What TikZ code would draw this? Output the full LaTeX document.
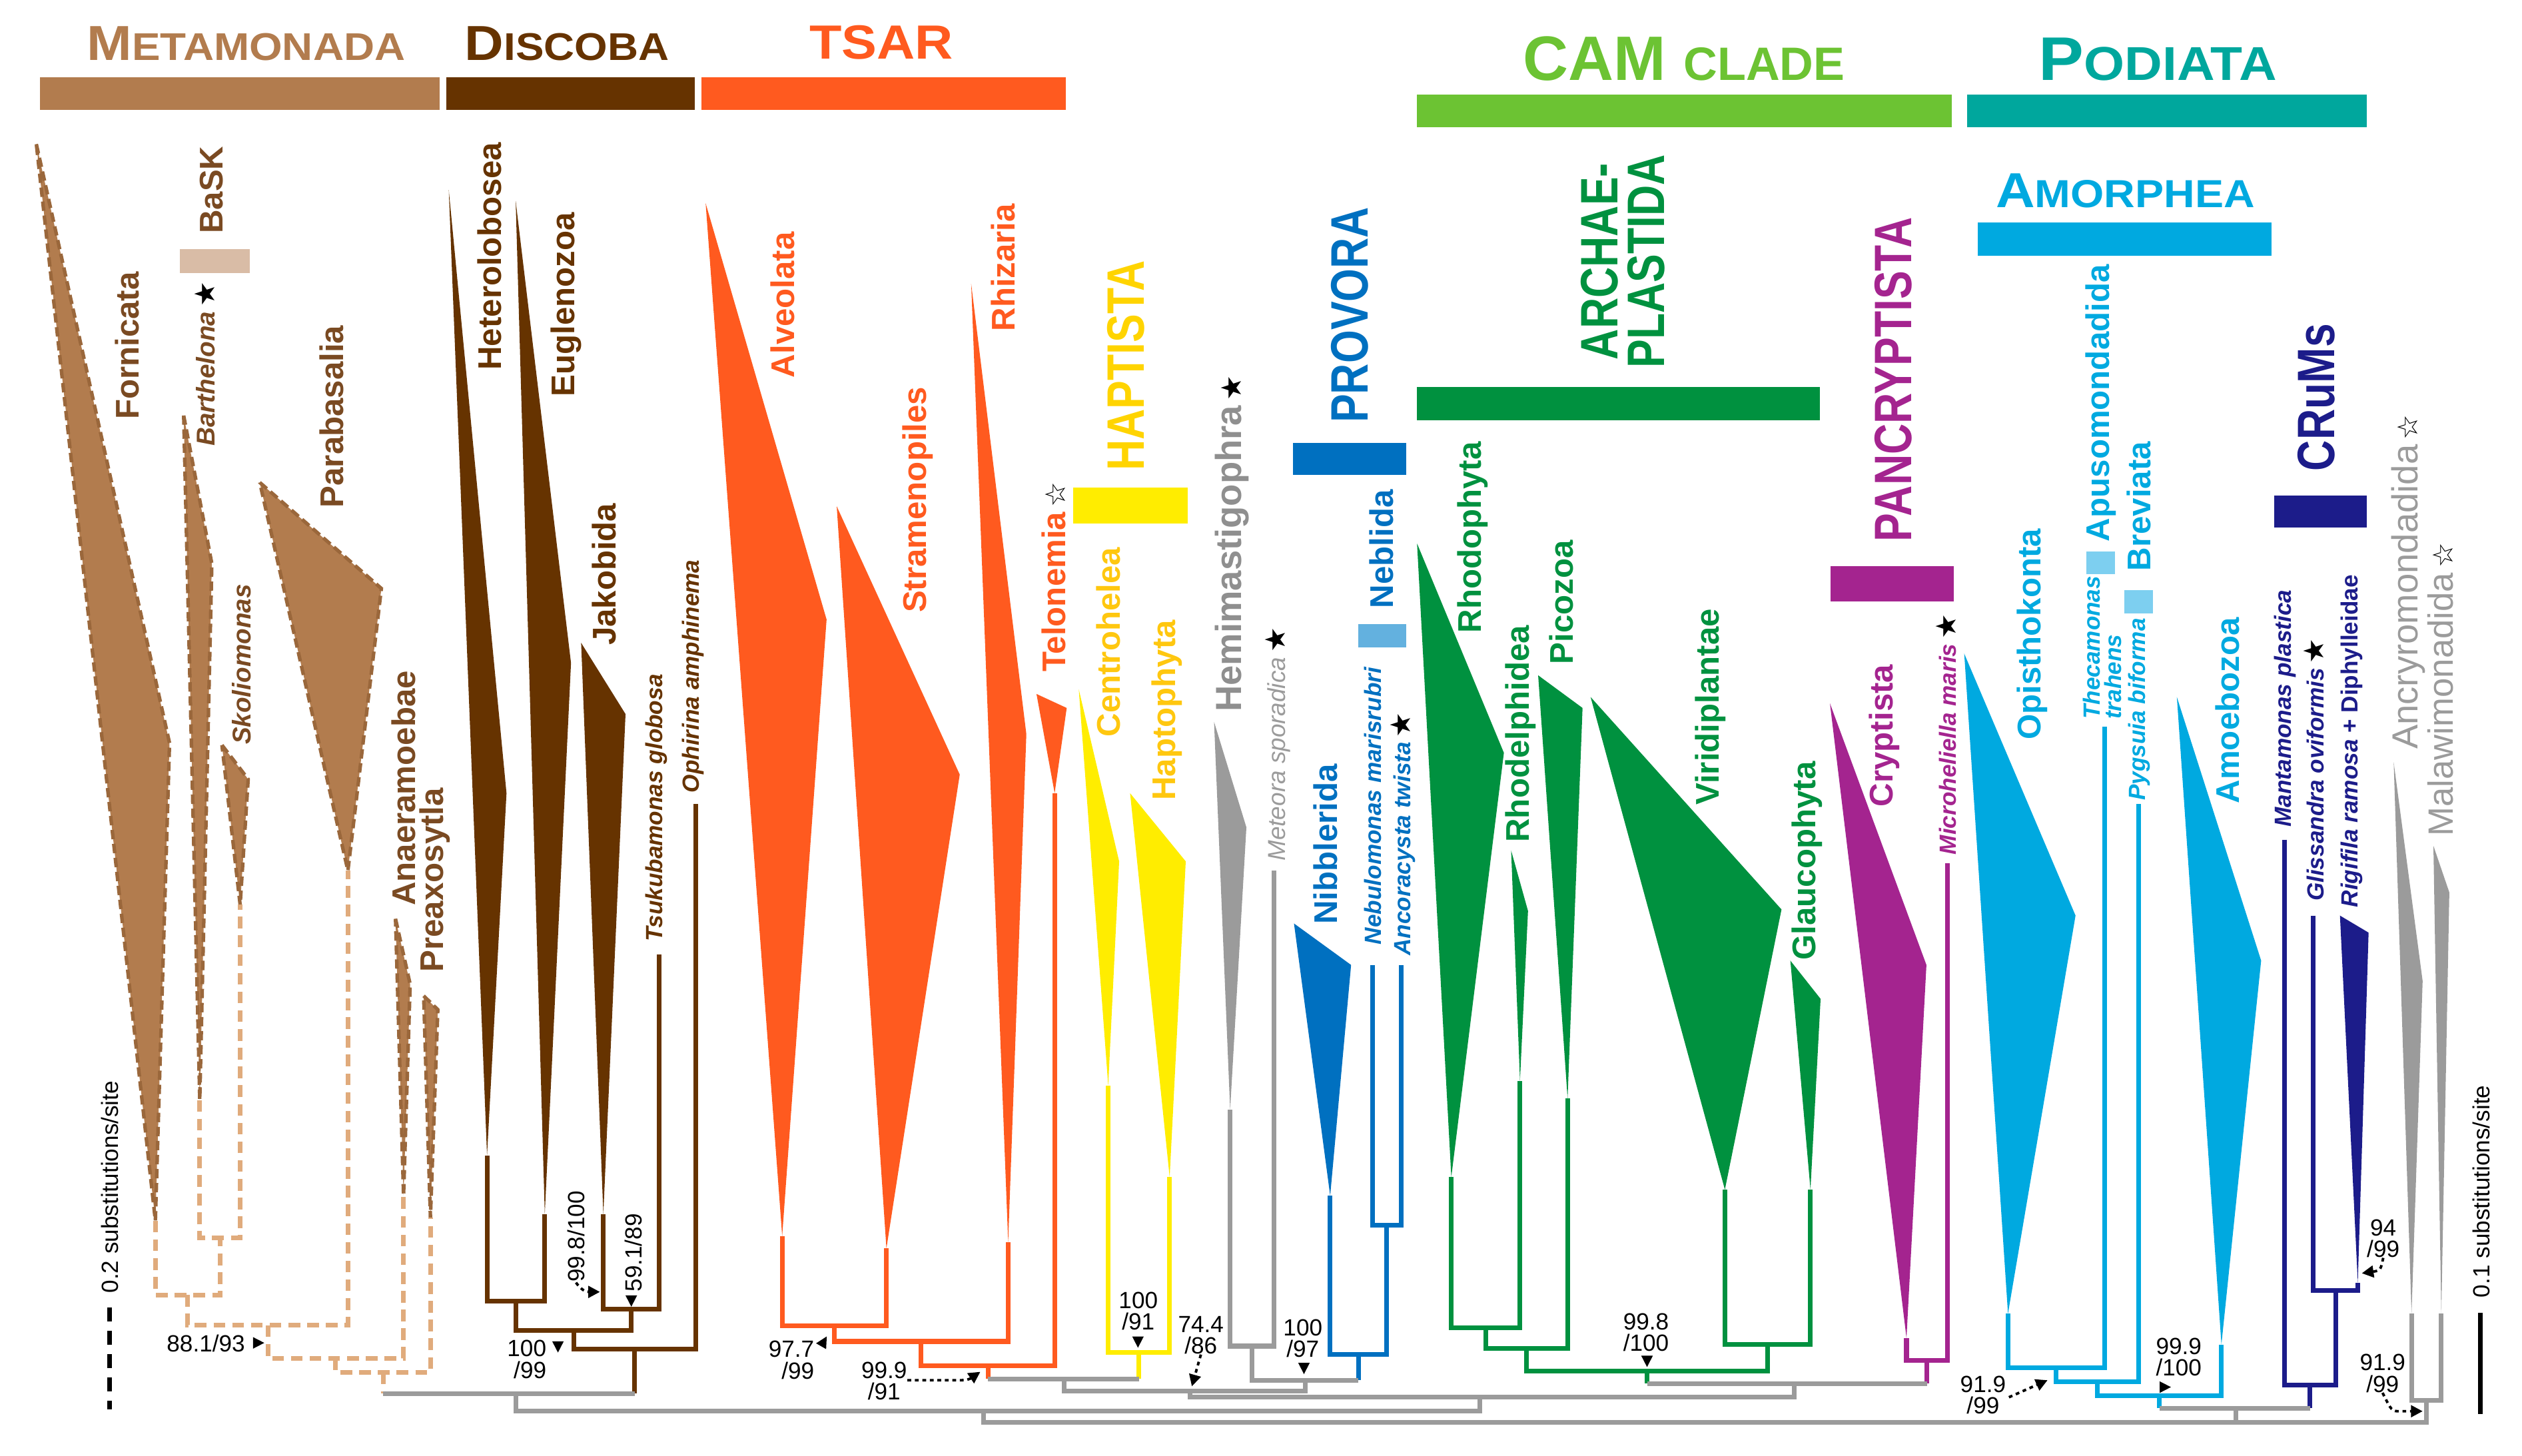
\documentclass[tikz,border=0pt]{standalone}
\usepackage{fontspec}
\setmainfont{Liberation Sans}
\newfontfamily\symfont{DejaVu Sans}
\newfontfamily\headfont[FakeStretch=1.1]{Liberation Sans}
\newfontfamily\grpfont[FakeStretch=0.81]{Liberation Sans}
\usetikzlibrary{arrows.meta}
\definecolor{metacol}{HTML}{B27C4E}
\definecolor{metaedge}{HTML}{9A673B}
\definecolor{metatree}{HTML}{E0AB7C}
\definecolor{metatext}{HTML}{7A4A22}
\definecolor{baskcol}{HTML}{D9BCA6}
\definecolor{disccol}{HTML}{663300}
\definecolor{tsarcol}{HTML}{FF5A1F}
\definecolor{haptcol}{HTML}{FFED00}
\definecolor{hapttext}{HTML}{FFC70F}
\definecolor{haptgrp}{HTML}{FFD400}
\definecolor{greycol}{HTML}{9B9B9B}
\definecolor{greytext}{HTML}{8F8F8F}
\definecolor{provcol}{HTML}{0070C0}
\definecolor{neblcol}{HTML}{63B1DF}
\definecolor{camcol}{HTML}{6CC333}
\definecolor{archcol}{HTML}{00913F}
\definecolor{pancol}{HTML}{A4248F}
\definecolor{podcol}{HTML}{00A79D}
\definecolor{amorcol}{HTML}{00A9E0}
\definecolor{amorlight}{HTML}{7DCFF0}
\definecolor{crumcol}{HTML}{1C1C8A}
\newcommand{\branchwidth}{2pt}
\newcommand{\bstar}{{\color{black}\symfont\fontsize{12}{12}\selectfont\,★}}
\newcommand{\wstar}{{\color{black}\symfont\fontsize{12}{12}\selectfont\,☆}}
\newcommand{\hdr}[4]{{\headfont\bfseries\fontsize{#1}{#1}\selectfont #3\fontsize{#2}{#2}\selectfont #4}}

\begin{document}
\begin{tikzpicture}[x=0.024145cm, y=-0.024145cm,
  lab/.style={rotate=90, anchor=west, inner sep=0pt, font=\fontsize{14}{16}\selectfont\bfseries},
  spec/.style={rotate=90, anchor=west, inner sep=0pt, font=\fontsize{10}{11}\selectfont\bfseries\itshape},
  grp/.style={rotate=90, anchor=west, inner sep=0pt, font=\grpfont\fontsize{22.5}{20}\selectfont\bfseries},
  supp/.style={inner sep=0pt, align=center, font=\fontsize{10}{9.2}\selectfont},
  suppv/.style={rotate=90, anchor=west, inner sep=0pt, font=\fontsize{10}{11}\selectfont},
  head/.style={anchor=base, inner sep=0pt},
  branch/.style={line width=\branchwidth},
  dashbranch/.style={draw=metatree, line width=\branchwidth, dash pattern=on 5pt off 3pt},
  metaclade/.style={fill=metacol, draw=metaedge, line width=1.5pt, dash pattern=on 4pt off 2pt},
  dotarrow/.style={line width=1.1pt, dash pattern=on 1.6pt off 1.6pt, -{Triangle[length=5pt,width=5pt]}},
  supptip/.pic={\fill (0,0) -- (-3.6,-7) -- (3.6,-7) -- cycle;}
]
\useasboundingbox (0,0) rectangle (1568,905);

% group bars
\fill[metacol] (25,48) rectangle (273.5,68.4);
\fill[disccol] (277.3,48) rectangle (431.9,68.4);
\fill[tsarcol] (436.2,48) rectangle (662.7,68.4);
\fill[camcol] (881,58.8) rectangle (1213.3,79);
\fill[podcol] (1222.9,58.8) rectangle (1471.6,79);
\fill[amorcol] (1229.8,138.2) rectangle (1412.3,159);
\fill[baskcol] (111.7,154.8) rectangle (155.1,169.7);
\fill[haptcol] (667,303) rectangle (738.5,325.4);
\fill[provcol] (804,275.3) rectangle (874.2,295.4);
\fill[neblcol] (844.6,388.1) rectangle (874.2,402.6);
\fill[archcol] (881,240.6) rectangle (1131.4,261.3);
\fill[pancol] (1138.2,352) rectangle (1214.5,374);
\fill[amorlight] (1297,342.8) rectangle (1315.1,357.2);
\fill[amorlight] (1320.8,366.9) rectangle (1338.6,381.4);
\fill[crumcol] (1414,308.1) rectangle (1471.6,327.8);

% headers
\node[head, text=metacol] (metamonada) at (153,37.6) {\hdr{21}{16.5}{M}{ETAMONADA}};
\node[head, text=disccol] (discoba) at (352.5,37.6) {\hdr{21}{16.5}{D}{ISCOBA}};
\node[head, text=tsarcol] (tsar) at (548,36.6) {\hdr{20.5}{20.5}{TSAR}{}};
\node[head, text=camcol] (camclade) at (1047,50.1) {\bfseries\fontsize{26.8}{27}\selectfont CAM \fontsize{20}{20}\selectfont CLADE};
\node[head, text=podcol] (podiata) at (1341.5,50.1) {\hdr{26.3}{20.3}{P}{ODIATA}};
\node[head, text=amorcol] (amorphea) at (1321.3,128.8) {\hdr{21}{16.7}{A}{MORPHEA}};

% tree points
\coordinate (fornT) at (96.6,759);
\coordinate (barT) at (124.2,684);
\coordinate (skoT) at (149.3,562.6);
\coordinate (parT) at (216.3,541.4);
\coordinate (anaT) at (250.9,743.5);
\coordinate (preT) at (267.6,757);
\coordinate (bs) at (136.75,769.5);
\coordinate (m1) at (116.7,805.2);
\coordinate (m2) at (166.5,824.1);
\coordinate (m3) at (208.7,844.7);
\coordinate (m4) at (238.2,853.4);
\coordinate (hetT) at (302.8,718.5);
\coordinate (eugT) at (338.7,755);
\coordinate (jakT) at (375.1,755);
\coordinate (tsuT) at (409.8,593.4);
\coordinate (ophT) at (432.4,499.9);
\coordinate (he) at (320.75,809.1);
\coordinate (jt) at (392.45,813.9);
\coordinate (d1) at (356.6,827.4);
\coordinate (d2) at (394.5,839);
\coordinate (alvT) at (486.3,768.6);
\coordinate (strT) at (551.1,776.3);
\coordinate (rhiT) at (626.8,772.4);
\coordinate (telT) at (655.7,493.2);
\coordinate (t1) at (518.7,824.5);
\coordinate (t2) at (572.75,834.1);
\coordinate (t3) at (614.2,849.2);
\coordinate (cenT) at (689,675);
\coordinate (hapT) at (727.2,732);
\coordinate (h1) at (708.1,840.9);
\coordinate (hemT) at (764.8,690);
\coordinate (metT) at (791.9,541.4);
\coordinate (hm) at (778.35,837);
\coordinate (nibT) at (827,743.5);
\coordinate (nebT) at (853.4,600);
\coordinate (ancT) at (871,600);
\coordinate (p1) at (862.2,761.8);
\coordinate (p2) at (844.6,842.2);
\coordinate (rhoT) at (902.3,731.9);
\coordinate (rhdT) at (945,672);
\coordinate (picT) at (974.6,683);
\coordinate (virT) at (1072.4,739.7);
\coordinate (glaT) at (1125.6,739.7);
\coordinate (a1) at (923.65,825.5);
\coordinate (a2) at (949.1,838.4);
\coordinate (a3) at (1099,836.1);
\coordinate (a4) at (1024,852.5);
\coordinate (cryT) at (1185.3,832);
\coordinate (micT) at (1210.6,536.6);
\coordinate (c1) at (1197.95,845.7);
\coordinate (opiT) at (1248.4,816.8);
\coordinate (theT) at (1308.4,451.7);
\coordinate (pygT) at (1329.5,499.9);
\coordinate (amoT) at (1381.1,836);
\coordinate (o1) at (1278.4,850.5);
\coordinate (o2) at (1303.95,859.2);
\coordinate (o3) at (1342.5,867.9);
\coordinate (manT) at (1420.2,522.1);
\coordinate (gliT) at (1438.2,569.3);
\coordinate (rigT) at (1465.9,797.5);
\coordinate (r1) at (1452.05,802.3);
\coordinate (r2) at (1436.1,861.1);
\coordinate (ancyT) at (1499.3,816.8);
\coordinate (malT) at (1517.8,816.8);
\coordinate (w1) at (1508.55,870.8);
\coordinate (g1) at (320.6,866.5);
\coordinate (g2) at (661.5,857.3);
\coordinate (g3) at (811.5,858.2);
\coordinate (g4) at (739.7,865);
\coordinate (g5) at (1115.6,860.2);
\coordinate (g6) at (919.9,868.8);
\coordinate (g7) at (611.3,877.5);
\coordinate (g8) at (1390,875.6);
\coordinate (rt) at (1060,884.3);

% collapsed clades
\filldraw[metaclade] (22.6,89.6) -- (105.4,462) -- (fornT) -- cycle;
\filldraw[metaclade] (114.2,258.4) -- (131.7,350.5) -- (barT) -- cycle;
\filldraw[metaclade] (138,463.3) -- (154.3,484.5) -- (skoT) -- cycle;
\filldraw[metaclade] (161.5,300) -- (237.1,365.9) -- (parT) -- cycle;
\filldraw[metaclade] (245.9,571.3) -- (255,612) -- (anaT) -- cycle;
\filldraw[metaclade] (263.4,619.2) -- (272.2,627.8) -- (preT) -- cycle;
\fill[disccol] (279,118) -- (314.9,493.2) -- (hetT) -- cycle;
\fill[disccol] (320.6,124.9) -- (355,412.2) -- (eugT) -- cycle;
\fill[disccol] (361.3,399.7) -- (388.9,444) -- (jakT) -- cycle;
\fill[tsarcol] (438.7,126.3) -- (513.9,385.2) -- (alvT) -- cycle;
\fill[tsarcol] (520.2,314.8) -- (596.7,481.6) -- (strT) -- cycle;
\fill[tsarcol] (603.8,176.4) -- (638.1,456.5) -- (rhiT) -- cycle;
\fill[tsarcol] (644.4,431.5) -- (663.2,440.2) -- (telT) -- cycle;
\fill[haptcol] (670.7,428.6) -- (695.8,535.6) -- (cenT) -- cycle;
\fill[haptcol] (702.6,493.2) -- (737.2,535.6) -- (hapT) -- cycle;
\fill[greycol] (754.8,448.8) -- (774.9,514.4) -- (hemT) -- cycle;
\fill[provcol] (804.5,574.2) -- (840,600) -- (nibT) -- cycle;
\fill[archcol] (881,337.9) -- (935,468.1) -- (rhoT) -- cycle;
\fill[archcol] (939.5,528.8) -- (950,566.4) -- (rhdT) -- cycle;
\fill[archcol] (956.3,419.9) -- (983.9,440.2) -- (picT) -- cycle;
\fill[archcol] (988.9,433.4) -- (1107.6,565.5) -- (virT) -- cycle;
\fill[archcol] (1113.1,597.3) -- (1131.9,621.1) -- (glaT) -- cycle;
\fill[pancol] (1137.7,437.3) -- (1197.7,600) -- (cryT) -- cycle;
\fill[amorcol] (1221.2,406.4) -- (1290.4,569.3) -- (opiT) -- cycle;
\fill[amorcol] (1353.4,433.4) -- (1405.8,597.3) -- (amoT) -- cycle;
\fill[crumcol] (1454.8,569.3) -- (1472.6,579.9) -- (rigT) -- cycle;
\fill[greycol] (1488.2,473.9) -- (1506.2,610) -- (ancyT) -- cycle;
\fill[greycol] (1512.9,525.9) -- (1522.8,554.9) -- (malT) -- cycle;

% branches
\draw[dashbranch] (barT) |- (bs) -| (skoT);
\draw[dashbranch] (fornT) |- (m1) -| (bs);
\draw[dashbranch] (m1) |- (m2) -| (parT);
\draw[dashbranch] (m2) |- (m3) -| (anaT);
\draw[dashbranch] (m3) |- (m4) -| (preT);
\draw[dashbranch] (m4) -- (m4 |- g1);
\draw[branch, disccol] (hetT) |- (he) -| (eugT);
\draw[branch, disccol] (jakT) |- (jt) -| (tsuT);
\draw[branch, disccol] (he) |- (d1) -| (jt);
\draw[branch, disccol] (d1) |- (d2) -| (ophT);
\draw[branch, disccol] (d2) -- (d2 |- g1);
\draw[branch, greycol] (m4 |- g1) -- (d2 |- g1);
\draw[branch, tsarcol] (alvT) |- (t1) -| (strT);
\draw[branch, tsarcol] (t1) |- (t2) -| (rhiT);
\draw[branch, tsarcol] (t2) |- (t3) -| (telT);
\draw[branch, tsarcol] (t3) -- (t3 |- g2);
\draw[branch, haptcol] (cenT) |- (h1) -| (hapT);
\draw[branch, haptcol] (h1) -- (h1 |- g2);
\draw[branch, greycol] (t3 |- g2) -- (h1 |- g2);
\draw[branch, greycol] (hemT) |- (hm) -| (metT);
\draw[branch, provcol] (nebT) |- (p1) -| (ancT);
\draw[branch, provcol] (nibT) |- (p2) -| (p1);
\draw[branch, provcol] (p2) -- (p2 |- g3);
\draw[branch, greycol] (hm) |- (p2 |- g3);
\draw[branch, greycol] (g2) |- (g4) -| (g3);
\draw[branch, archcol] (rhoT) |- (a1) -| (rhdT);
\draw[branch, archcol] (a1) |- (a2) -| (picT);
\draw[branch, archcol] (virT) |- (a3) -| (glaT);
\draw[branch, archcol] (a2) |- (a4) -| (a3);
\draw[branch, archcol] (a4) -- (a4 |- g5);
\draw[branch, pancol] (cryT) |- (c1) -| (micT);
\draw[branch, pancol] (c1) -- (c1 |- g5);
\draw[branch, greycol] (a4 |- g5) -- (c1 |- g5);
\draw[branch, greycol] (g4) |- (g6) -| (g5);
\draw[branch, greycol] (g1) |- (g7) -| (g6);
\draw[branch, amorcol] (opiT) |- (o1) -| (theT);
\draw[branch, amorcol] (o1) |- (o2) -| (pygT);
\draw[branch, amorcol] (o2) |- (o3) -| (amoT);
\draw[branch, amorcol] (o3) -- (o3 |- g8);
\draw[branch, crumcol] (gliT) |- (r1) -| (rigT);
\draw[branch, crumcol] (manT) |- (r2) -| (r1);
\draw[branch, crumcol] (r2) -- (r2 |- g8);
\draw[branch, greycol] (o3 |- g8) -- (r2 |- g8);
\draw[branch, greycol] (ancyT) |- (w1) -| (malT);
\draw[branch, greycol] (g7) |- (rt) -| (w1);
\draw[branch, greycol] (g8) -- (g8 |- rt);

% clade labels
\node[lab, text=metatext] (fornicata) at (79,261.2) {Fornicata};
\node[lab, text=metatext] (bask) at (131.7,145.6) {BaSK};
\node[spec, text=metatext, font=\fontsize{11}{12}\selectfont\bfseries\itshape] (barthelona) at (127.3,277.6) {Barthelona\bstar};
\node[lab, text=metatext] (parabasalia) at (206.4,316) {Parabasalia};
\node[spec, text=metatext, font=\fontsize{11}{12}\selectfont\bfseries\itshape] (skoliomonas) at (150,463.3) {Skoliomonas};
\node[lab, text=metatext] (anaeramoebae) at (251,563.5) {Anaeramoebae};
\node[lab, text=metatext] (preaxostyla) at (270.3,604.7) {Preaxosytla};
\node[lab, text=disccol] (heterolobosea) at (304.2,230.4) {Heterolobosea};
\node[lab, text=disccol] (euglenozoa) at (351.9,246.8) {Euglenozoa};
\node[lab, text=disccol] (jakobida) at (375.7,401.6) {Jakobida};
\node[spec, text=disccol] (tsukubamonas) at (408,585.7) {Tsukubamonas globosa};
\node[spec, text=disccol] (ophirina) at (431,493.2) {Ophirina amphinema};
\node[lab, text=tsarcol] (alveolata) at (486.7,235.2) {Alveolata};
\node[lab, text=tsarcol] (stramenopiles) at (570.5,381.3) {Stramenopiles};
\node[lab, text=tsarcol] (rhizaria) at (623.7,206.3) {Rhizaria};
\node[lab, text=tsarcol] (telonemia) at (655,418) {Telonemia\wstar};
\node[grp, text=haptgrp] (haptista) at (700.2,293) {HAPTISTA};
\node[lab, text=hapttext] (centrohelea) at (689,458.5) {Centrohelea};
\node[lab, text=hapttext] (haptophyta) at (725.3,498) {Haptophyta};
\node[lab, text=greytext, font=\fontsize{15.5}{17}\selectfont\bfseries] (hemimastigophora) at (766,443) {Hemimastigophra\bstar};
\node[spec, text=greycol, font=\fontsize{10.5}{12}\selectfont\itshape] (meteora) at (794.4,535.6) {Meteora sporadica\bstar};
\node[grp, text=provcol] (provora) at (839.3,263.2) {PROVORA};
\node[lab, text=provcol] (neblida) at (859,378.5) {Neblida};
\node[lab, text=provcol] (nibbleria) at (824,575) {Nibblerida};
\node[spec, text=provcol] (nebulomonas) at (853.4,587.6) {Nebulomonas marisrubri};
\node[spec, text=provcol] (ancoracysta) at (872,594.4) {Ancoracysta twista\bstar};
\node[grp, text=archcol, anchor=center, align=center] (archaeplastida) at (1009,162.5) {ARCHAE-\\PLASTIDA};
\node[lab, text=archcol] (rhodophyta) at (915.5,393.9) {Rhodophyta};
\node[lab, text=archcol] (rhodelphidea) at (945.5,524) {Rhodelphidea};
\node[lab, text=archcol] (picozoa) at (970.6,413.2) {Picozoa};
\node[lab, text=archcol] (viridiplantae) at (1063.3,500.9) {Viridiplantae};
\node[lab, text=archcol] (glaucophyta) at (1123.7,597.3) {Glaucophyta};
\node[grp, text=pancol] (pancryptista) at (1177,337) {PANCRYPTISTA};
\node[lab, text=pancol] (cryptista) at (1171.4,501.9) {Cryptista};
\node[spec, text=pancol] (microheliella) at (1210,531.7) {Microheliella maris\bstar};
\node[lab, text=amorcol] (opisthokonta) at (1263.3,460.4) {Opisthokonta};
\node[lab, text=amorcol] (apusomonadida) at (1306,337) {Apusomondadida};
\node[spec, text=amorcol, align=left, font=\fontsize{10}{9}\selectfont\bfseries\itshape] (thecamonas) at (1307,447.5) {Thecamonas\\trahens};
\node[lab, text=amorcol] (breviata) at (1330,355.3) {Breviata};
\node[spec, text=amorcol] (pygsuia) at (1330,498) {Pygsuia biforma};
\node[lab, text=amorcol] (amoebozoa) at (1385,499.9) {Amoebozoa};
\node[grp, text=crumcol] (crums) at (1440,293.1) {CRuMs};
\node[spec, text=crumcol] (mantamonas) at (1420.8,514.4) {Mantamonas plastica};
\node[spec, text=crumcol] (glissandra) at (1438.7,560.6) {Glissandra oviformis\bstar};
\node[spec, text=crumcol] (rigifila) at (1462.2,564.5) {Rigifila ramosa {\upshape + Diphylleidae}};
\node[lab, text=greycol, font=\fontsize{15.5}{17}\selectfont] (ancyromonadida) at (1497.5,466.2) {Ancryromondadida\wstar};
\node[lab, text=greycol, font=\fontsize{15}{17}\selectfont] (malawimonadida) at (1517.3,520.2) {Malawimonadida\wstar};

% support values
\node[supp] (s881) at (128,835.5) {88.1/93};
\pic[rotate=90] at (164.3,835) {supptip};
\node[supp, align=right] (s100d) at (327.5,845.2) {100\\/99};
\pic at (346.9,841) {supptip};
\node[suppv] (s998d) at (358.1,797.5) {99.8/100};
\coordinate (e998d) at (373,803.3);
\draw[dotarrow] (s998d.west) .. controls (362,803) and (365,803.3) .. (e998d);
\node[suppv] (s591) at (393.7,803.5) {59.1/89};
\pic at (392.5,812.5) {supptip};
\node[supp, align=right] (s977) at (492,845.7) {97.7\\/99};
\pic[rotate=150] at (514,831) {supptip};
\node[supp] (s999t) at (549.7,858.7) {99.9\\/91};
\coordinate (b999t) at (598,858.2);
\coordinate (e999t) at (609.5,853);
\draw[dotarrow] (s999t.east |- b999t) -- (b999t) .. controls (603,858.2) and (605,856) .. (e999t);
\node[supp] (s100h) at (707.7,815.3) {100\\/91};
\pic at (707.5,838) {supptip};
\node[supp] (s744) at (746.6,830.2) {74.4\\/86};
\coordinate (e744) at (741,862);
\draw[dotarrow] (s744.south) -- (e744);
\node[supp] (s100p) at (810,832.2) {100\\/97};
\pic at (810.7,854.4) {supptip};
\node[supp] (s998a) at (1023.4,828.4) {99.8\\/100};
\pic at (1024,850) {supptip};
\node[supp] (s919a) at (1232.9,867.4) {91.9\\/99};
\coordinate (e919a) at (1273,858.2);
\draw[dotarrow] (1249,868.8) -- (e919a);
\node[supp] (s999a) at (1354.6,843.8) {99.9\\/100};
\pic[rotate=90] at (1349.7,862.5) {supptip};
\node[supp] (s94) at (1481.7,770) {94\\/99};
\coordinate (e94) at (1468.4,791.7);
\draw[dotarrow] (s94.south) .. controls (1480,790) .. (e94);
\node[supp] (s919r) at (1481.3,853.9) {91.9\\/99};
\coordinate (e919r) at (1506.2,877.5);
\draw[dotarrow] (s919r.south) .. controls (1487,877.5) .. (1492,877.5) -- (e919r);

% scale bars
\coordinate (sbl1) at (68.2,812.9);
\coordinate (sbl2) at (68.2,876.5);
\draw[line width=2pt, dash pattern=on 6pt off 4pt] (sbl1) -- (sbl2);
\node[suppv] (scaleleft) at (68.5,804.3) {0.2 substitutions/site};
\coordinate (sbr1) at (1542,816.4);
\coordinate (sbr2) at (1542,879.4);
\draw[line width=2pt] (sbr1) -- (sbr2);
\node[suppv] (scaleright) at (1542.5,807.1) {0.1 substitutions/site};
\end{tikzpicture}
\end{document}
